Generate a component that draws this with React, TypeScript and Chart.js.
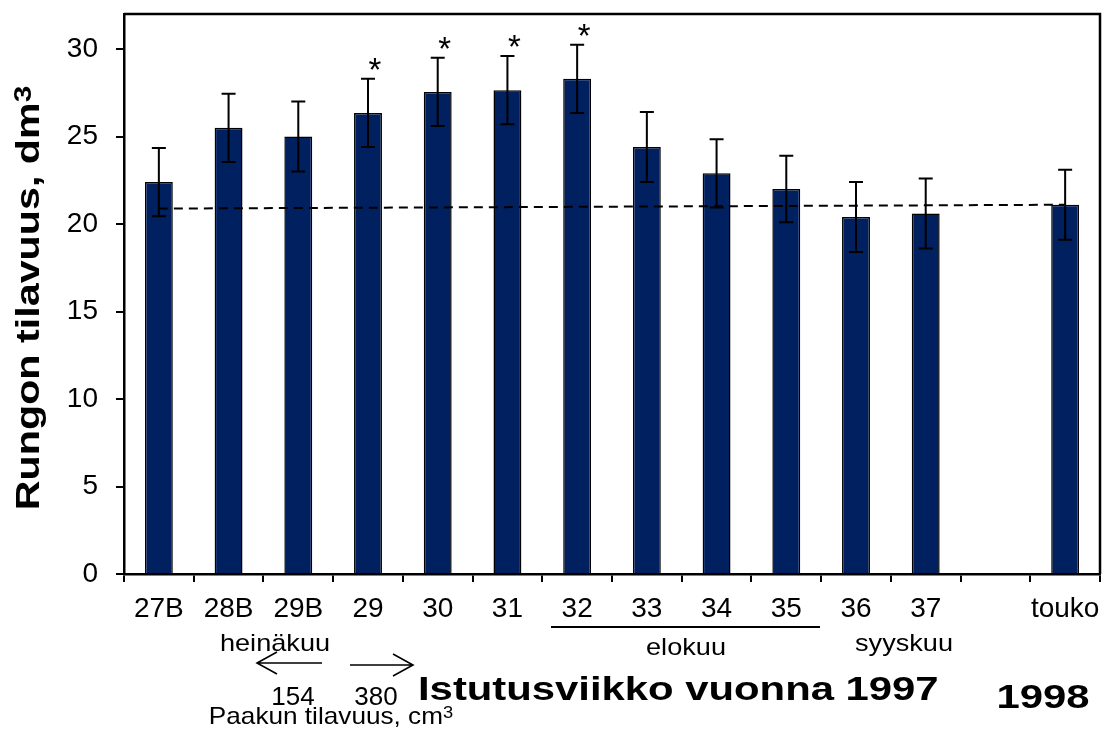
import React, { useEffect, useRef } from "react";
import { Chart, registerables } from "chart.js";

Chart.register(...registerables);

// ---- data ----
const categories = ["27B", "28B", "29B", "29", "30", "31", "32", "33", "34", "35", "36", "37", "", "touko"];
const means = [22.4, 25.5, 25.0, 26.35, 27.55, 27.65, 28.3, 24.4, 22.9, 22.0, 20.4, 20.6, null, 21.1];
const errors = [1.95, 1.95, 2.0, 1.95, 1.95, 1.95, 1.95, 2.0, 1.95, 1.9, 2.0, 2.0, null, 2.0];
const significant = [false, false, false, true, true, true, true, false, false, false, false, false, false, false];
const referenceLine = [20.88, null, null, null, null, null, null, null, null, null, null, null, null, 21.1];
const yTickValues = [0, 5, 10, 15, 20, 25, 30];
const yMin = 0;
const yMax = 32;

const yTitle = "Rungon tilavuus, dm";
const yTitleSup = "3";
const xTitle = "Istutusviikko vuonna 1997";
const xTitle2 = "1998";
const monthJuly = "heinäkuu";
const monthAug = "elokuu";
const monthSep = "syyskuu";
const potSmall = "154";
const potLarge = "380";
const potTitle = "Paakun tilavuus, cm";
const potTitleSup = "3";

const FONT = "'Liberation Sans', Arial, sans-serif";

// draws text (with optional superscript) horizontally stretched by sx, at current transform
function drawSup(ctx: CanvasRenderingContext2D, text: string, sup: string, size: number, bold: boolean, sx: number, supScale: number, align: "left" | "center") {
  const w = bold ? "bold " : "";
  ctx.font = `${w}${size}px ${FONT}`;
  const mw = ctx.measureText(text).width;
  ctx.font = `${w}${size * supScale}px ${FONT}`;
  const sw = sup ? ctx.measureText(sup).width : 0;
  const total = mw + sw;
  ctx.save();
  ctx.scale(sx, 1);
  const start = align === "center" ? -total / 2 : 0;
  ctx.fillStyle = "#000";
  ctx.textAlign = "left";
  ctx.textBaseline = "alphabetic";
  ctx.font = `${w}${size}px ${FONT}`;
  ctx.fillText(text, start, 0);
  if (sup) {
    ctx.font = `${w}${size * supScale}px ${FONT}`;
    ctx.fillText(sup, start + mw, -size * 0.716 * (1 - supScale) - size * 0.04);
  }
  ctx.restore();
}

function stretchText(ctx: CanvasRenderingContext2D, text: string, x: number, y: number, size: number, bold: boolean, sx: number, align: "left" | "center" = "center", sup = "", supScale = 0.7) {
  ctx.save();
  ctx.translate(x, y);
  drawSup(ctx, text, sup, size, bold, sx, supScale, align);
  ctx.restore();
}

function arrow(ctx: CanvasRenderingContext2D, x1: number, y1: number, x2: number, y2: number) {
  const dir = Math.sign(x2 - x1);
  ctx.save();
  ctx.strokeStyle = "#000";
  ctx.lineWidth = 1.6;
  ctx.beginPath();
  ctx.moveTo(x1, y1);
  ctx.lineTo(x2, y2);
  ctx.moveTo(x2 - dir * 20, y2 - 11);
  ctx.lineTo(x2, y2);
  ctx.lineTo(x2 - dir * 20, y2 + 11);
  ctx.stroke();
  ctx.restore();
}

const annotPlugin = {
  id: "annot",
  afterDatasetsDraw(chart: any) {
    const ctx: CanvasRenderingContext2D = chart.ctx;
    const meta = chart.getDatasetMeta(1);
    const ys = chart.scales.y;
    ctx.save();
    ctx.strokeStyle = "#000";
    ctx.lineWidth = 2;
    meta.data.forEach((bar: any, i: number) => {
      const m = means[i];
      const e = errors[i];
      if (m == null || e == null) return;
      const x = bar.x;
      const yt = ys.getPixelForValue(m + e);
      const yb = ys.getPixelForValue(m - e);
      ctx.beginPath();
      ctx.moveTo(x, yt);
      ctx.lineTo(x, yb);
      ctx.moveTo(x - 7, yt);
      ctx.lineTo(x + 7, yt);
      ctx.moveTo(x - 7, yb);
      ctx.lineTo(x + 7, yb);
      ctx.stroke();
      if (significant[i]) {
        ctx.font = `33px ${FONT}`;
        ctx.fillStyle = "#000";
        ctx.textAlign = "center";
        ctx.textBaseline = "alphabetic";
        ctx.fillText("*", x + 7, yt + 2);
      }
    });
    ctx.restore();
  },
  afterDraw(chart: any) {
    const ctx: CanvasRenderingContext2D = chart.ctx;
    const a = chart.chartArea;
    ctx.save();
    ctx.strokeStyle = "#000";
    ctx.lineWidth = 2.5;
    ctx.beginPath();
    ctx.moveTo(a.left, a.top);
    ctx.lineTo(a.right, a.top);
    ctx.lineTo(a.right, a.bottom);
    ctx.stroke();

    // y title (rotated)
    ctx.save();
    ctx.translate(39, 298);
    ctx.rotate(-Math.PI / 2);
    drawSup(ctx, yTitle, yTitleSup, 33, true, 1.25, 0.72, "center");
    ctx.restore();

    // month labels
    stretchText(ctx, monthJuly, 275, 651, 24, false, 1.13);
    stretchText(ctx, monthAug, 686, 655, 24, false, 1.13);
    stretchText(ctx, monthSep, 904, 651, 24, false, 1.13);

    // underline for August weeks
    ctx.lineWidth = 2;
    ctx.beginPath();
    ctx.moveTo(551, 627);
    ctx.lineTo(820, 627);
    ctx.stroke();

    // arrows
    arrow(ctx, 322, 663, 257, 663);
    arrow(ctx, 350, 665, 413, 665);

    stretchText(ctx, potSmall, 293, 705, 25, false, 1.04);
    stretchText(ctx, potLarge, 376, 705, 25, false, 1.04);
    stretchText(ctx, potTitle, 331, 724, 24, false, 1.09, "center", potTitleSup, 0.7);

    stretchText(ctx, xTitle, 418, 700, 34, true, 1.23, "left");
    stretchText(ctx, xTitle2, 1043, 708, 34, true, 1.23);
    ctx.restore();
  },
};

export default function App() {
  const ref = useRef<HTMLCanvasElement>(null);
  useEffect(() => {
    if (!ref.current) return;
    const chart = new Chart(ref.current, {
      type: "bar",
      data: {
        labels: categories,
        datasets: [
          {
            type: "line",
            data: referenceLine as any,
            borderColor: "#000",
            borderWidth: 2,
            borderDash: [9, 6],
            pointRadius: 0,
            spanGaps: true,
            fill: false,
            order: 0,
          } as any,
          {
            type: "bar",
            data: means as any,
            backgroundColor: "#002060",
            borderColor: "#000",
            borderWidth: 1.5,
            barPercentage: 1,
            categoryPercentage: 0.4,
            order: 1,
          },
        ],
      },
      options: {
        animation: false,
        responsive: true,
        maintainAspectRatio: false,
        layout: { padding: { top: 14, right: 4, left: 0, bottom: 0 } },
        plugins: { legend: { display: false }, tooltip: { enabled: false }, title: { display: false } },
        scales: {
          x: {
            offset: true,
            grid: { offset: true, drawOnChartArea: false, drawTicks: true, tickLength: 8, color: "#000", lineWidth: 2 },
            border: { display: true, color: "#000", width: 2.5 },
            ticks: { color: "#000", font: { family: FONT, size: 28 }, padding: 10, maxRotation: 0, autoSkip: false },
            afterFit: (s: any) => {
              s.height = 159;
              s.paddingLeft = 0;
              s.paddingRight = 0;
            },
          },
          y: {
            min: yMin,
            max: yMax,
            ticks: { stepSize: 5, color: "#000", font: { family: FONT, size: 28 }, padding: 18 },
            afterBuildTicks: (s: any) => {
              s.ticks = yTickValues.map((v) => ({ value: v }));
            },
            grid: { drawOnChartArea: false, drawTicks: true, tickLength: 8, color: "#000", lineWidth: 2 },
            border: { display: true, color: "#000", width: 2.5 },
            afterFit: (s: any) => {
              s.width = 124;
              s.paddingTop = 0;
              s.paddingBottom = 0;
            },
          },
        },
      },
      plugins: [annotPlugin],
    });
    return () => chart.destroy();
  }, []);
  return (
    <div style={{ position: "fixed", left: 0, top: 0, width: 1104, height: 733, background: "#fff" }}>
      <canvas ref={ref} />
    </div>
  );
}
